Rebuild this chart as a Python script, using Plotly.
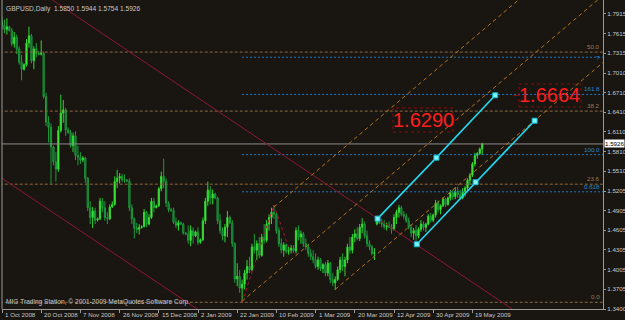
import plotly.graph_objects as go

# ---------------- data ----------------
date_labels = ["1 Oct 2008", "20 Oct 2008", "7 Nov 2008", "26 Nov 2008", "15 Dec 2008",
               "2 Jan 2009", "22 Jan 2009", "10 Feb 2009", "1 Mar 2009", "20 Mar 2009",
               "12 Apr 2009", "30 Apr 2009", "19 May 2009"]
date_bars = [0, 16, 32, 48, 64, 80, 96, 112, 128, 144, 160, 176, 192]

price_ticks = [1.7915, 1.7615, 1.7315, 1.7010, 1.6710, 1.6410, 1.6110, 1.5810,
               1.5510, 1.5205, 1.4905, 1.4605, 1.4305, 1.4005, 1.3705, 1.3400]

open_ = [
 1.7800,1.7740,1.7680,1.7720,1.7660,1.7460,1.7560,1.7380,1.7180,1.7070,
 1.7140,1.7470,1.7580,1.7200,1.7380,1.7310,1.7300,1.7310,1.6650,1.6260,
 1.6180,1.5880,1.5650,1.5540,1.6130,1.6400,1.6450,1.6140,1.6100,1.5900,
 1.6050,1.5750,1.5720,1.5680,1.5710,1.5400,1.4950,1.4800,1.4900,1.4760,
 1.4780,1.5050,1.4950,1.4800,1.4780,1.4960,1.5000,1.5350,1.5400,1.5430,
 1.5380,1.5370,1.5360,1.4950,1.4780,1.4640,1.4620,1.4650,1.4660,1.4880,
 1.4700,1.4800,1.5050,1.4950,1.4980,1.5240,1.5430,1.5350,1.5020,1.4920,
 1.4910,1.4730,1.4680,1.4720,1.4700,1.4560,1.4550,1.4450,1.4600,1.4520,
 1.4580,1.4420,1.4460,1.4750,1.5050,1.5220,1.5100,1.5160,1.5100,1.4750,
 1.4600,1.4520,1.4650,1.4800,1.4720,1.4400,1.3860,1.3900,1.3720,1.3780,
 1.3950,1.4050,1.4000,1.4350,1.4300,1.4400,1.4220,1.4500,1.4450,1.4700,
 1.4800,1.4880,1.4850,1.4600,1.4400,1.4300,1.4380,1.4280,1.4300,1.4330,
 1.4290,1.4600,1.4500,1.4550,1.4400,1.4350,1.4250,1.4200,1.4150,1.4050,
 1.4150,1.4020,1.4080,1.3950,1.4100,1.3850,1.3800,1.3850,1.4000,1.4150,
 1.4050,1.4150,1.4350,1.4300,1.4500,1.4550,1.4480,1.4650,1.4700,1.4520,
 1.4400,1.4350,1.4250,1.4700,1.4760,1.4720,1.4700,1.4660,1.4680,1.4650,
 1.4620,1.4800,1.4880,1.4950,1.4850,1.4820,1.4750,1.4650,1.4560,1.4600,
 1.4520,1.4620,1.4700,1.4650,1.4700,1.4820,1.4760,1.4840,1.5020,1.4920,
 1.4980,1.5080,1.5000,1.5100,1.5180,1.5120,1.5200,1.5150,1.5100,1.5200,
 1.5250,1.5370,1.5450,1.5620,1.5750,1.5780,1.5850]
high = [
 1.7870,1.7830,1.7850,1.7730,1.7700,1.7640,1.7600,1.7420,1.7290,1.7160,
 1.7530,1.7720,1.7610,1.7420,1.7470,1.7350,1.7510,1.7340,1.6710,1.6350,
 1.6240,1.5900,1.5800,1.6200,1.6680,1.6600,1.6480,1.6180,1.6140,1.6100,
 1.6120,1.5900,1.5800,1.5740,1.5730,1.5420,1.5050,1.4960,1.4950,1.4800,
 1.5100,1.5100,1.5050,1.4880,1.5000,1.5050,1.5430,1.5530,1.5480,1.5470,
 1.5460,1.5390,1.5400,1.5000,1.4800,1.4720,1.4700,1.4680,1.4930,1.4900,
 1.4850,1.5100,1.5100,1.5000,1.5270,1.5500,1.5700,1.5400,1.5050,1.4950,
 1.4950,1.4800,1.4760,1.4740,1.4720,1.4580,1.4680,1.4680,1.4650,1.4600,
 1.4650,1.4480,1.4800,1.5100,1.5350,1.5280,1.5230,1.5180,1.5120,1.4850,
 1.4650,1.4700,1.4900,1.4830,1.4760,1.4420,1.4100,1.4000,1.3850,1.4000,
 1.4150,1.4200,1.4400,1.4550,1.4450,1.4500,1.4550,1.4700,1.4760,1.4850,
 1.4950,1.4993,1.4880,1.4650,1.4480,1.4420,1.4400,1.4350,1.4380,1.4380,
 1.4650,1.4680,1.4600,1.4580,1.4480,1.4400,1.4320,1.4300,1.4250,1.4200,
 1.4180,1.4100,1.4120,1.4150,1.4120,1.3950,1.3900,1.4050,1.4200,1.4250,
 1.4200,1.4400,1.4500,1.4550,1.4620,1.4650,1.4700,1.4790,1.4740,1.4600,
 1.4450,1.4380,1.4330,1.4810,1.4800,1.4780,1.4760,1.4720,1.4740,1.4700,
 1.4850,1.4920,1.4993,1.4980,1.4900,1.4860,1.4800,1.4700,1.4640,1.4680,
 1.4650,1.4760,1.4740,1.4720,1.4850,1.4870,1.4860,1.5070,1.5060,1.5000,
 1.5110,1.5100,1.5120,1.5220,1.5220,1.5260,1.5270,1.5220,1.5250,1.5280,
 1.5400,1.5480,1.5650,1.5790,1.5800,1.5870,1.5944]
low = [
 1.7690,1.7620,1.7600,1.7650,1.7420,1.7400,1.7300,1.7140,1.6900,1.7050,
 1.7110,1.7400,1.7160,1.7070,1.7250,1.7280,1.7280,1.6620,1.6200,1.5950,
 1.5300,1.5600,1.5350,1.5500,1.6100,1.6250,1.6050,1.6080,1.5870,1.5800,
 1.5680,1.5600,1.5620,1.5650,1.5330,1.4900,1.4700,1.4640,1.4700,1.4740,
 1.4760,1.4880,1.4750,1.4700,1.4760,1.4950,1.4980,1.5250,1.5320,1.5340,
 1.5330,1.5340,1.4900,1.4700,1.4480,1.4560,1.4540,1.4630,1.4650,1.4650,
 1.4680,1.4780,1.4880,1.4940,1.4960,1.5200,1.5250,1.4960,1.4880,1.4890,
 1.4700,1.4640,1.4600,1.4690,1.4540,1.4530,1.4400,1.4360,1.4400,1.4500,
 1.4380,1.4400,1.4440,1.4700,1.4980,1.5000,1.5000,1.5080,1.4700,1.4550,
 1.4450,1.4420,1.4500,1.4700,1.4350,1.3800,1.3750,1.3650,1.3503,1.3700,
 1.3850,1.3950,1.3980,1.4250,1.4150,1.4180,1.4200,1.4400,1.4420,1.4600,
 1.4700,1.4780,1.4550,1.4350,1.4250,1.4200,1.4250,1.4230,1.4250,1.4260,
 1.4250,1.4450,1.4400,1.4350,1.4300,1.4200,1.4150,1.4100,1.4020,1.4000,
 1.3980,1.3950,1.3900,1.3900,1.3800,1.3750,1.3692,1.3830,1.3950,1.3980,
 1.3900,1.4100,1.4250,1.4250,1.4420,1.4450,1.4440,1.4560,1.4480,1.4350,
 1.4300,1.4220,1.4150,1.4680,1.4700,1.4650,1.4620,1.4600,1.4640,1.4550,
 1.4600,1.4700,1.4800,1.4820,1.4780,1.4720,1.4620,1.4500,1.4460,1.4440,
 1.4480,1.4580,1.4600,1.4580,1.4680,1.4720,1.4730,1.4800,1.4880,1.4850,
 1.4960,1.4960,1.4980,1.5060,1.5070,1.5080,1.5100,1.5070,1.5080,1.5120,
 1.5200,1.5300,1.5420,1.5580,1.5700,1.5760,1.5754]
close = [
 1.7740,1.7680,1.7720,1.7660,1.7460,1.7560,1.7380,1.7180,1.7070,1.7140,
 1.7470,1.7580,1.7200,1.7380,1.7310,1.7300,1.7310,1.6650,1.6260,1.6180,
 1.5880,1.5650,1.5540,1.6130,1.6400,1.6450,1.6140,1.6100,1.5900,1.6050,
 1.5750,1.5720,1.5680,1.5710,1.5400,1.4950,1.4800,1.4900,1.4760,1.4780,
 1.5050,1.4950,1.4800,1.4780,1.4960,1.5000,1.5350,1.5400,1.5430,1.5380,
 1.5370,1.5360,1.4950,1.4780,1.4640,1.4620,1.4650,1.4660,1.4880,1.4700,
 1.4800,1.5050,1.4950,1.4980,1.5240,1.5430,1.5350,1.5020,1.4920,1.4910,
 1.4730,1.4680,1.4720,1.4700,1.4560,1.4550,1.4450,1.4600,1.4520,1.4580,
 1.4420,1.4460,1.4750,1.5050,1.5220,1.5100,1.5160,1.5100,1.4750,1.4600,
 1.4520,1.4650,1.4800,1.4720,1.4400,1.3860,1.3900,1.3720,1.3780,1.3950,
 1.4050,1.4000,1.4350,1.4300,1.4400,1.4220,1.4500,1.4450,1.4700,1.4800,
 1.4880,1.4850,1.4600,1.4400,1.4300,1.4380,1.4280,1.4300,1.4330,1.4290,
 1.4600,1.4500,1.4550,1.4400,1.4350,1.4250,1.4200,1.4150,1.4050,1.4150,
 1.4020,1.4080,1.3950,1.4100,1.3850,1.3800,1.3850,1.4000,1.4150,1.4050,
 1.4150,1.4350,1.4300,1.4500,1.4550,1.4480,1.4650,1.4700,1.4520,1.4400,
 1.4350,1.4250,1.4260,1.4760,1.4720,1.4700,1.4660,1.4680,1.4650,1.4620,
 1.4800,1.4880,1.4950,1.4850,1.4820,1.4750,1.4650,1.4560,1.4600,1.4520,
 1.4620,1.4700,1.4650,1.4700,1.4820,1.4760,1.4840,1.5020,1.4920,1.4980,
 1.5080,1.5000,1.5100,1.5180,1.5120,1.5200,1.5150,1.5100,1.5200,1.5250,
 1.5370,1.5450,1.5620,1.5750,1.5780,1.5850,1.5926]

last_price = 1.5926
title_text = "GBPUSD,Daily  1.5850 1.5944 1.5754 1.5926"
copyright_text = "MIG Trading Station, \u00a9 2001-2009 MetaQuotes Software Corp."

# Fibonacci retracement (anchors low / high)
fib_low, fib_high = 1.3503, 2.1161
fib_ratios = [0.0, 0.236, 0.382, 0.5]
fib_names = ["0.0", "23.6", "38.2", "50.0"]

# Fibonacci expansion zigzag (bar, price)
zig_bars = [98, 111, 117.6]
zig_prices = [1.3503, 1.4993, 1.4273]
exp_ratios = [0.618, 1.0, 1.618, 2.0]
exp_names = ["0.618", "100.0", "161.8", "?"]

# Andrews pitchfork anchors
fork_bars = [98, 111, 136]
fork_prices = [1.3520, 1.4960, 1.3700]

# dark red channel lines
red1_bars, red1_prices = [22.4, 208.2], [1.8083, 1.3400]
red2_bars, red2_prices = [0.4, 79.6], [1.5390, 1.3400]

# cyan channel
cyan_up_bars, cyan_up_prices = [153.3, 177.3, 201.3], [1.4783, 1.5716, 1.6671]
cyan_lo_bars, cyan_lo_prices = [169.3, 193.3, 217.4], [1.4391, 1.5340, 1.6282]

# price labels (text, bar-left, bar-right, price-top, price-bottom)
label_texts = ["1.6290", "1.6664"]
label_bars = [(159.6, 184.1), (211.0, 236.3)]
label_prices = [(1.6477, 1.6109), (1.6844, 1.6492)]

# ---------------- figure ----------------
BG = "#191510"
FONT = "Liberation Sans, Arial, sans-serif"
SMALL = 6.2
XR = [0.0, 245.3]
YR = [1.3400, 1.8129]
FAR = 300

fig = go.Figure()

# fib retracement levels
for r in fib_ratios:
    lvl = fib_low + r * (fib_high - fib_low)
    fig.add_trace(go.Scatter(x=[-5, FAR], y=[lvl, lvl], mode="lines",
                             line=dict(color="#8a6a42", width=1, dash="3px,2px"),
                             hoverinfo="skip", showlegend=False))

# fib expansion levels
zA, zB, zC = zig_prices
for r in exp_ratios:
    lvl = zC + r * (zB - zA)
    fig.add_trace(go.Scatter(x=[zig_bars[0], FAR], y=[lvl, lvl], mode="lines",
                             line=dict(color="#1f78c0", width=1, dash="2px,2px"),
                             hoverinfo="skip", showlegend=False))

# current price line
fig.add_trace(go.Scatter(x=[-5, FAR], y=[last_price, last_price], mode="lines",
                         line=dict(color="#8c8c8c", width=1),
                         hoverinfo="skip", showlegend=False))

# dark red channel
for bx, py in ((red1_bars, red1_prices), (red2_bars, red2_prices)):
    s = (py[1] - py[0]) / (bx[1] - bx[0])
    x0, x1 = -5, FAR
    fig.add_trace(go.Scatter(x=[x0, x1], y=[py[0] + s * (x0 - bx[0]), py[0] + s * (x1 - bx[0])],
                             mode="lines", line=dict(color="#8e1838", width=1),
                             hoverinfo="skip", showlegend=False))

# candles
fig.add_trace(go.Candlestick(
    x=list(range(len(close))), open=open_, high=high, low=low, close=close,
    increasing=dict(line=dict(color="#2fd82f", width=1), fillcolor="#5cff4a"),
    decreasing=dict(line=dict(color="#1c9c3c", width=1), fillcolor="#0d4b3a"),
    whiskerwidth=0, hoverinfo="skip", showlegend=False))

# zigzag (fib expansion base)
fig.add_trace(go.Scatter(x=zig_bars, y=zig_prices, mode="lines",
                         line=dict(color="#b0153a", width=1, dash="dot"),
                         hoverinfo="skip", showlegend=False))

# pitchfork
(fa, fb, fc), (pa, pb, pc) = fork_bars, fork_prices
mid_x, mid_y = (fb + fc) / 2, (pb + pc) / 2
slope = (mid_y - pa) / (mid_x - fa)
for bx, py in ((fa, pa), (fb, pb), (fc, pc)):
    fig.add_trace(go.Scatter(x=[bx, FAR], y=[py, py + slope * (FAR - bx)], mode="lines",
                             line=dict(color="#b3731c", width=1, dash="4px,3px"),
                             hoverinfo="skip", showlegend=False))

# cyan channel
for bx, py in ((cyan_up_bars, cyan_up_prices), (cyan_lo_bars, cyan_lo_prices)):
    fig.add_trace(go.Scatter(x=bx, y=py, mode="lines+markers",
                             line=dict(color="#22d8f0", width=1.6),
                             marker=dict(symbol="square", size=5, color="#7ff4ff",
                                         line=dict(color="#10b8d0", width=1)),
                             hoverinfo="skip", showlegend=False, cliponaxis=False))

shapes = []
annotations = []

# price label boxes
for txt, (bx0, bx1), (py0, py1) in zip(label_texts, label_bars, label_prices):
    shapes.append(dict(type="rect", xref="x", yref="y", x0=bx0, x1=bx1, y0=py1, y1=py0,
                       line=dict(color="#8e0c0c", width=1, dash="dot"), fillcolor="rgba(0,0,0,0)"))
    annotations.append(dict(x=(bx0 + bx1) / 2, y=(py0 + py1) / 2, xref="x", yref="y",
                            text=txt, showarrow=False,
                            font=dict(family=FONT, size=20, color="#ff1d1d")))
# small connector ticks
shapes.append(dict(type="line", xref="x", yref="y", x0=label_bars[0][1], x1=label_bars[0][1] + 2.2,
                   y0=sum(label_prices[0]) / 2, y1=sum(label_prices[0]) / 2,
                   line=dict(color="#8e0c0c", width=1)))
shapes.append(dict(type="line", xref="x", yref="y", x0=label_bars[1][0] - 2.4, x1=label_bars[1][0],
                   y0=sum(label_prices[1]) / 2, y1=sum(label_prices[1]) / 2,
                   line=dict(color="#8e0c0c", width=1)))

# left border
shapes.append(dict(type="line", xref="paper", yref="paper", x0=0, x1=0, y0=0, y1=1,
                   line=dict(color="#9a9a9a", width=1)))

# fib labels
for r, name in zip(fib_ratios, fib_names):
    lvl = fib_low + r * (fib_high - fib_low)
    annotations.append(dict(x=XR[1] - 0.6, y=lvl, xref="x", yref="y", text=name,
                            xanchor="right", yanchor="bottom", showarrow=False,
                            font=dict(family=FONT, size=SMALL, color="#9c7c55")))
for r, name in zip(exp_ratios, exp_names):
    lvl = zC + r * (zB - zA)
    annotations.append(dict(x=XR[1] - 0.6, y=lvl, xref="x", yref="y", text=name,
                            xanchor="right", yanchor="middle" if name == "?" else "bottom",
                            showarrow=False,
                            font=dict(family=FONT, size=SMALL, color="#2a86d0")))

# title & copyright
annotations.append(dict(x=0.004, y=1, xref="paper", yref="paper", text=title_text,
                        xanchor="left", yanchor="top", yshift=-3, showarrow=False,
                        font=dict(family=FONT, size=SMALL + 0.4, color="#c8c8c8")))
annotations.append(dict(x=0.004, y=0, xref="paper", yref="paper", text=copyright_text,
                        xanchor="left", yanchor="bottom", yshift=1, showarrow=False,
                        font=dict(family=FONT, size=SMALL + 0.4, color="#c8c8c8")))

# date labels
for b, lab in zip(date_bars, date_labels):
    annotations.append(dict(x=b, y=0, xref="x", yref="paper", text=lab,
                            xanchor="left", yanchor="top", xshift=1, yshift=0,
                            showarrow=False, font=dict(family=FONT, size=SMALL, color="#c8c8c8")))

# current price tag on axis
annotations.append(dict(x=1, y=last_price, xref="paper", yref="y", text="1.5926",
                        xanchor="left", yanchor="middle", xshift=1, showarrow=False,
                        bgcolor="#ffffff", borderpad=0,
                        font=dict(family=FONT, size=SMALL, color="#000000")))

fig.update_layout(
    width=625, height=320,
    margin=dict(l=2, r=22, t=0, b=11),
    paper_bgcolor=BG, plot_bgcolor=BG,
    shapes=shapes, annotations=annotations,
    showlegend=False,
    xaxis=dict(range=XR, showgrid=False, zeroline=False, rangeslider=dict(visible=False),
               tickvals=date_bars, showticklabels=False, ticks="outside", ticklen=3,
               tickcolor="#9a9a9a", showline=True, linecolor="#9a9a9a", linewidth=1,
               fixedrange=True),
    yaxis=dict(range=YR, side="right", showgrid=False, zeroline=False,
               tickvals=price_ticks, ticktext=[f"{p:.4f}" for p in price_ticks],
               ticks="outside", ticklen=2, tickcolor="#9a9a9a",
               tickfont=dict(family=FONT, size=SMALL, color="#c8c8c8"),
               showline=True, linecolor="#9a9a9a", linewidth=1, automargin=False,
               fixedrange=True),
)

fig.write_html("out.html")
